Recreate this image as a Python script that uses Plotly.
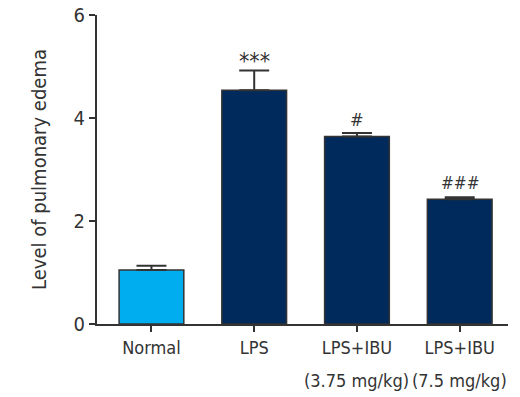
import plotly.graph_objects as go

labels = ["Normal", "LPS", "LPS+IBU", "LPS+IBU"]
doses = ["", "", "(3.75 mg/kg)", "(7.5 mg/kg)"]
values = [1.05, 4.54, 3.64, 2.42]
errors = [0.08, 0.38, 0.07, 0.04]
signif = ["", "***", "#", "###"]
signif_size = [0, 23, 18, 17]
signif_shift = [0, -5, 1, 2]
colors = ["#00AEEF", "#002A5C", "#002A5C", "#002A5C"]

FONT = "DejaVu Sans Condensed, sans-serif"
INK = "#333333"

fig = go.Figure()
fig.add_trace(go.Bar(
    x=list(range(len(labels))),
    y=values,
    marker=dict(color=colors, line=dict(color=INK, width=1.5)),
    width=0.63,
    error_y=dict(type="data", symmetric=False, array=errors,
                 arrayminus=[0] * len(errors), color=INK, thickness=2, width=15),
    showlegend=False,
    hoverinfo="skip",
))

for i, (v, e, s, fs, sh) in enumerate(zip(values, errors, signif, signif_size, signif_shift)):
    if s:
        fig.add_annotation(x=i, y=v + e, text=s, showarrow=False,
                           yanchor="bottom", yshift=sh,
                           font=dict(family=FONT, size=fs, color=INK))

for i, d in enumerate(doses):
    if d:
        fig.add_annotation(x=i, xref="x", y=0, yref="paper", text=d, showarrow=False,
                           yanchor="middle", yshift=-56,
                           font=dict(family=FONT, size=18, color=INK))

fig.update_layout(
    width=520, height=397,
    margin=dict(l=97, r=12, t=15, b=73),
    plot_bgcolor="white", paper_bgcolor="white",
    font=dict(family=FONT, size=18, color=INK),
)
fig.update_xaxes(
    range=[-0.53, 3.47], automargin=False,
    tickmode="array", tickvals=list(range(len(labels))), ticktext=labels,
    tickangle=0,
    showline=True, linecolor=INK, linewidth=2,
    ticks="outside", ticklen=6, tickwidth=2, tickcolor=INK,
    showgrid=False, zeroline=False,
    tickfont=dict(family=FONT, size=18, color=INK),
)
fig.update_yaxes(
    range=[0, 6], tickvals=[0, 2, 4, 6], automargin=False,
    showline=True, linecolor=INK, linewidth=2,
    ticks="outside", ticklen=6, tickwidth=2, tickcolor=INK,
    showgrid=False, zeroline=False,
    tickfont=dict(family=FONT, size=20, color=INK),
    title=dict(text="Level of pulmonary edema", font=dict(family=FONT, size=20, color=INK), standoff=22),
)
fig.write_html("out.html")
